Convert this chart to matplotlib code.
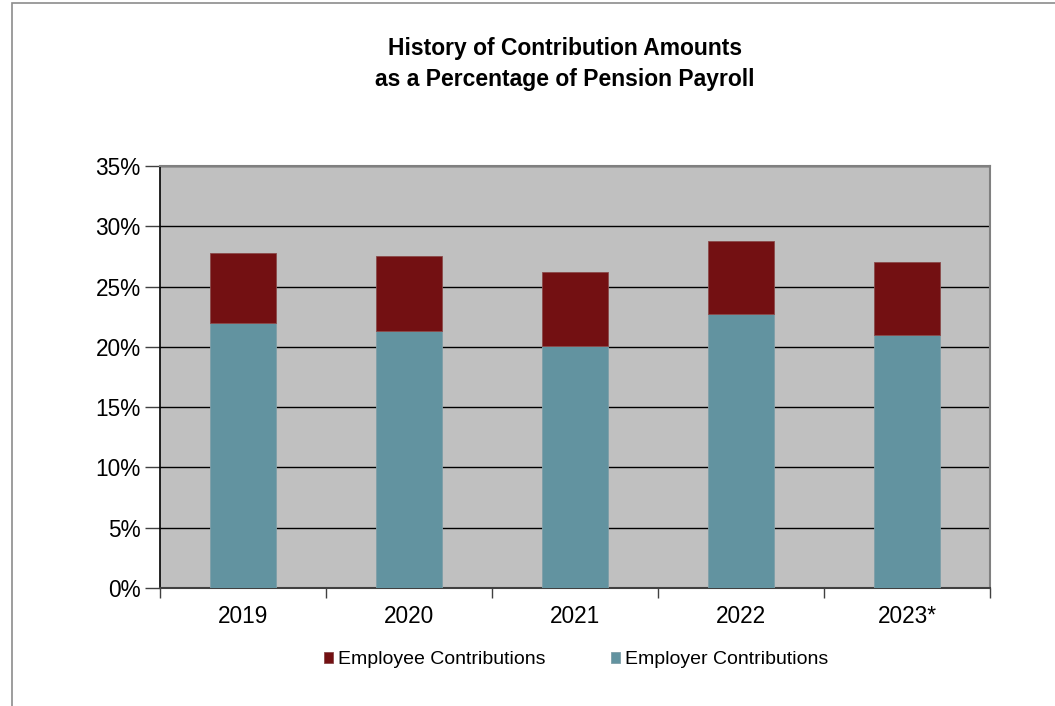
import matplotlib
matplotlib.use("Agg")
import matplotlib.pyplot as plt
import numpy as np
from matplotlib.patches import Rectangle
from matplotlib.ticker import PercentFormatter

plt.rcParams['font.family'] = ['Liberation Sans', 'DejaVu Sans']

years = ["2019", "2020", "2021", "2022", "2023*"]
employer = [22.0, 21.3, 20.1, 22.7, 21.0]
employee = [5.8, 6.2, 6.1, 6.1, 6.0]

col_employer = "#6293a0"
col_employee = "#731012"

fig = plt.figure(figsize=(10.55, 7.06), dpi=100)
W, H = 1055, 706

# outer chart border (left + top visible, rest cut off)
fig.patches.append(Rectangle((12 / W, -0.1), 1.2, 1 - 3 / H + 0.1, transform=fig.transFigure,
                             fill=False, edgecolor="#8c8c8c", linewidth=1.2))

ax = fig.add_axes([160 / W, 1 - 588 / H, 830 / W, 422 / H])
ax.set_facecolor("#c0c0c0")

x = np.arange(len(years))
ax.bar(x, employer, width=0.40, color=col_employer, edgecolor="#7f9fa8", linewidth=0.6,
       label="Employer Contributions", zorder=3)
ax.bar(x, employee, width=0.40, bottom=employer, color=col_employee, edgecolor="#8a4a4a",
       linewidth=0.6, label="Employee Contributions", zorder=3)

ax.set_xlim(-0.5, len(years) - 0.5)
ax.set_ylim(0, 35)
ax.set_yticks(np.arange(0, 36, 5))
ax.yaxis.set_major_formatter(PercentFormatter(decimals=0))
ax.grid(axis="y", color="black", linewidth=1.0, zorder=1)

ax.set_xticks(x)
ax.set_xticklabels(years)
ax.set_xticks(np.arange(-0.5, len(years)), minor=True)
ax.tick_params(axis="x", which="major", length=0, pad=12, labelsize=16.3)
ax.tick_params(axis="x", which="minor", length=7, width=1, color="#404040", direction="out")
ax.tick_params(axis="y", length=11, width=1, color="#404040", direction="out", pad=3, labelsize=16.3)

for s in ["top", "right"]:
    ax.spines[s].set_color("#808080")
    ax.spines[s].set_linewidth(1.5)
ax.spines["left"].set_color("black")
ax.spines["left"].set_linewidth(1.2)
ax.spines["bottom"].set_color("#404040")
ax.spines["bottom"].set_linewidth(1.5)

fig.text(565 / W, 1 - 64 / H, "History of Contribution Amounts\nas a Percentage of Pension Payroll",
         ha="center", va="center", fontsize=16.5, fontweight="bold", linespacing=1.4)

handles, labels = ax.get_legend_handles_labels()
ax.legend(handles[::-1], labels[::-1], loc="center", bbox_to_anchor=(576 / W, 1 - 660 / H),
          bbox_transform=fig.transFigure, ncol=2, frameon=False, fontsize=14,
          handlelength=0.45, handleheight=0.45, handletextpad=0.25, columnspacing=3.4)

fig.savefig("out.png", dpi=100)
